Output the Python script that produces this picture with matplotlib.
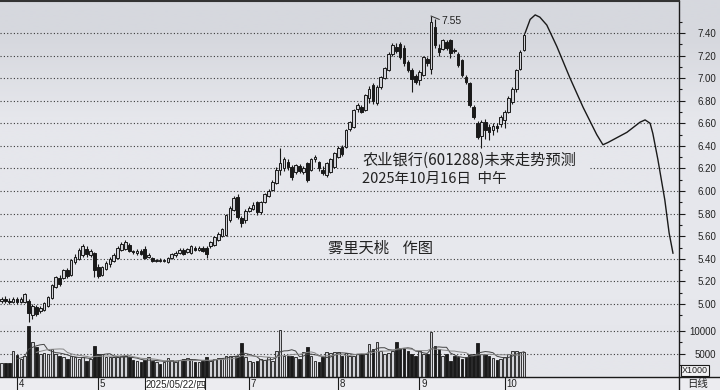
import numpy as np
import pandas as pd
import matplotlib
matplotlib.use('Agg')
from matplotlib import pyplot as plt
from matplotlib.patches import Rectangle
from matplotlib.lines import Line2D
from matplotlib.ticker import FixedLocator, FixedFormatter

# daily K-line, 601288, late March .. 2025-10-16
opens = [5.03, 5.04, 5.03, 5.02, 5.04, 5.02, 5.02, 5.03, 4.90, 4.97,
         4.94, 4.95, 4.98, 5.05, 5.15, 5.23, 5.23, 5.30, 5.26, 5.37,
         5.40, 5.43, 5.49, 5.43, 5.45, 5.33, 5.26, 5.31, 5.35, 5.38,
         5.41, 5.48, 5.49, 5.52, 5.47, 5.45, 5.47, 5.49, 5.42, 5.41,
         5.38, 5.39, 5.38, 5.37, 5.41, 5.43, 5.45, 5.48, 5.46, 5.45,
         5.50, 5.48, 5.50, 5.50, 5.51, 5.52, 5.57, 5.60, 5.61, 5.74,
         5.83, 5.95, 5.76, 5.74, 5.82, 5.84, 5.90, 5.81, 5.90, 5.96,
         6.01, 6.07, 6.19, 6.20, 6.26, 6.21, 6.17, 6.22, 6.17, 6.25,
         6.19, 6.28, 6.26, 6.19, 6.14, 6.17, 6.21, 6.30, 6.39, 6.39,
         6.55, 6.57, 6.73, 6.74, 6.72, 6.82, 6.94, 6.78, 6.92, 7.00,
         7.07, 7.21, 7.28, 7.30, 7.27, 7.14, 7.07, 7.02, 6.98, 7.03,
         7.17, 7.08, 7.45, 7.27, 7.26, 7.32, 7.34, 7.25, 7.21, 7.16,
         7.01, 6.96, 6.74, 6.60, 6.49, 6.61, 6.57, 6.54, 6.58, 6.59,
         6.63, 6.70, 6.79, 6.90, 7.08, 7.25]
closes = [5.04, 5.03, 5.02, 5.04, 5.02, 5.04, 5.09, 4.92, 4.98, 4.91,
          4.96, 5.01, 5.06, 5.17, 5.24, 5.18, 5.30, 5.25, 5.39, 5.42,
          5.48, 5.51, 5.44, 5.47, 5.30, 5.25, 5.33, 5.36, 5.40, 5.43,
          5.50, 5.53, 5.55, 5.47, 5.46, 5.47, 5.44, 5.41, 5.43, 5.38,
          5.39, 5.38, 5.39, 5.41, 5.44, 5.45, 5.48, 5.44, 5.49, 5.51,
          5.48, 5.50, 5.47, 5.44, 5.55, 5.59, 5.62, 5.66, 5.79, 5.85,
          5.94, 5.77, 5.72, 5.82, 5.85, 5.88, 5.81, 5.90, 5.97, 6.00,
          6.08, 6.19, 6.25, 6.28, 6.21, 6.12, 6.23, 6.18, 6.20, 6.10,
          6.28, 6.30, 6.20, 6.16, 6.25, 6.28, 6.34, 6.38, 6.33, 6.54,
          6.61, 6.72, 6.76, 6.70, 6.85, 6.90, 6.80, 6.92, 7.01, 7.09,
          7.21, 7.29, 7.24, 7.19, 7.13, 7.07, 6.99, 6.97, 7.05, 7.19,
          7.13, 7.50, 7.29, 7.23, 7.34, 7.27, 7.22, 7.24, 7.12, 7.03,
          6.97, 6.76, 6.66, 6.48, 6.61, 6.54, 6.52, 6.58, 6.56, 6.66,
          6.70, 6.82, 6.90, 7.07, 7.23, 7.38]
highs = [5.06, 5.07, 5.05, 5.06, 5.06, 5.06, 5.10, 5.04, 5.00, 4.99,
         4.98, 5.02, 5.07, 5.18, 5.25, 5.26, 5.31, 5.32, 5.40, 5.44,
         5.50, 5.53, 5.51, 5.49, 5.46, 5.35, 5.34, 5.38, 5.42, 5.45,
         5.51, 5.55, 5.57, 5.54, 5.48, 5.49, 5.49, 5.51, 5.45, 5.42,
         5.40, 5.41, 5.40, 5.42, 5.45, 5.47, 5.50, 5.50, 5.50, 5.52,
         5.51, 5.51, 5.51, 5.51, 5.56, 5.60, 5.64, 5.67, 5.80, 5.87,
         5.96, 5.97, 5.78, 5.84, 5.87, 5.90, 5.91, 5.91, 5.98, 6.02,
         6.10, 6.21, 6.38, 6.30, 6.28, 6.23, 6.24, 6.24, 6.22, 6.26,
         6.29, 6.32, 6.27, 6.22, 6.26, 6.29, 6.35, 6.40, 6.41, 6.55,
         6.62, 6.73, 6.78, 6.76, 6.86, 6.93, 6.96, 6.94, 7.02, 7.10,
         7.23, 7.31, 7.31, 7.32, 7.29, 7.16, 7.09, 7.04, 7.07, 7.20,
         7.19, 7.55, 7.52, 7.30, 7.35, 7.34, 7.35, 7.27, 7.23, 7.17,
         7.03, 6.97, 6.76, 6.62, 6.63, 6.64, 6.59, 6.60, 6.60, 6.67,
         6.72, 6.84, 6.92, 7.08, 7.25, 7.40]
lows = [5.01, 5.01, 5.00, 5.01, 5.00, 5.01, 5.01, 4.84, 4.87, 4.89,
        4.92, 4.94, 4.97, 5.04, 5.14, 5.16, 5.22, 5.23, 5.25, 5.35,
        5.39, 5.42, 5.42, 5.42, 5.24, 5.23, 5.25, 5.30, 5.33, 5.37,
        5.40, 5.47, 5.48, 5.46, 5.44, 5.43, 5.43, 5.40, 5.41, 5.37,
        5.37, 5.37, 5.37, 5.36, 5.40, 5.42, 5.44, 5.43, 5.45, 5.44,
        5.47, 5.47, 5.46, 5.41, 5.50, 5.51, 5.56, 5.59, 5.60, 5.73,
        5.82, 5.75, 5.68, 5.72, 5.81, 5.83, 5.79, 5.80, 5.89, 5.95,
        6.00, 6.06, 6.14, 6.18, 6.19, 6.10, 6.15, 6.16, 6.15, 6.08,
        6.18, 6.26, 6.18, 6.14, 6.12, 6.16, 6.20, 6.29, 6.31, 6.38,
        6.53, 6.56, 6.70, 6.69, 6.71, 6.78, 6.77, 6.76, 6.90, 6.99,
        7.06, 7.20, 7.22, 7.17, 7.11, 7.05, 6.88, 6.95, 6.94, 7.02,
        7.11, 7.04, 7.27, 7.20, 7.25, 7.25, 7.18, 7.22, 7.10, 7.01,
        6.95, 6.74, 6.64, 6.46, 6.38, 6.46, 6.45, 6.50, 6.52, 6.57,
        6.56, 6.69, 6.77, 6.88, 7.07, 7.24]
# volume, x1000 lots
volumes = [3000, 2900, 3000, 5700, 4800, 3900, 4600, 11100, 7600, 6500,
           5000, 5100, 5000, 6100, 5000, 4600, 4200, 3900, 4600, 4200,
           3900, 4200, 3500, 3900, 6600, 5000, 5000, 4200, 4200, 4200,
           4200, 4400, 4500, 4200, 3600, 3500, 3100, 3600, 4200, 3500,
           3100, 2800, 3100, 4100, 3600, 3100, 3600, 3900, 4100, 3900,
           3100, 3100, 3300, 4200, 3500, 3900, 4100, 4100, 4600, 4600,
           4600, 4600, 7400, 4200, 3500, 3100, 3500, 3900, 3600, 4200,
           3500, 5600, 10200, 4600, 4400, 4600, 4200, 3900, 5400, 6500,
           4600, 3500, 3100, 4200, 5400, 5200, 5400, 5400, 4600, 5100,
           4600, 4600, 5000, 5000, 5000, 7200, 6100, 7600, 5700, 5000,
           5100, 5600, 7600, 6300, 6300, 5700, 5000, 4600, 5700, 5000,
           5000, 9800, 6600, 6100, 4600, 5000, 3500, 4600, 4200, 3900,
           4200, 5000, 5000, 7400, 5000, 5000, 4600, 4100, 3600, 3900,
           4200, 5000, 5700, 5700, 5400, 5400]

month_idx = [4, 25, 64, 87, 108, 130]
month_lbl = ['4', '5', '7', '8', '9', '10']
cursor_idx = 37
cursor_lbl = '2025/05/22/四'

# hand drawn forecast (bar index, price)
fc_x = [135.3, 136.6, 137.9, 139.1, 140.9, 143.5, 146.9, 150.3, 153.8, 155.4,
        156.7, 161.6, 165.0, 166.3, 167.6, 168.3, 169.6, 171.4, 172.5, 173.5]
fc_y = [7.40, 7.52, 7.56, 7.54, 7.47, 7.28, 7.00, 6.74, 6.50, 6.41,
        6.43, 6.52, 6.61, 6.63, 6.60, 6.51, 6.28, 5.92, 5.63, 5.45]

price_ticks = [5.00, 5.20, 5.40, 5.60, 5.80, 6.00, 6.20, 6.40, 6.60, 6.80, 7.00, 7.20, 7.40]
price_minor = [4.90, 5.10, 5.30, 5.50, 5.70, 5.90, 6.10, 6.30, 6.50, 6.70, 6.90, 7.10, 7.30, 7.50]
vol_ticks = [5000, 10000]
vol_minor = [2500, 7500]

plt.rcParams['font.family'] = ['Liberation Sans', 'Noto Sans CJK SC', 'DejaVu Sans']
CJK = ['Noto Sans CJK SC', 'DejaVu Sans']
INK = '#1a1a1a'
HOLLOW = '#d2d3d8'
GRID = dict(color='#3a3a3a', linestyle=(0, (1, 2)), linewidth=0.8)

fig = plt.figure(figsize=(7.2, 3.9), dpi=100)

# light grey backdrop
bg = fig.add_axes([0, 0, 1, 1], zorder=-10)
shade = np.array([[[214, 216, 222]], [[230, 231, 236]], [[230, 231, 236]],
                  [[232, 233, 238]], [[229, 230, 235]]], dtype=float) / 255
bg.imshow(shade, aspect='auto', extent=[0, 1, 0, 1], interpolation='bilinear')
bg.axis('off')
fig.patches.append(Rectangle((0, 0), 1, 13.5 / 390, transform=fig.transFigure,
                             facecolor='#ececf0', edgecolor='none', zorder=-5))

rect = [0, 13.5 / 390, 679 / 720, 375.5 / 390]
ax = fig.add_axes(rect, facecolor='none')
axv = fig.add_axes(rect, facecolor='none', sharex=ax)

n = len(closes)
x = np.arange(n)
o = np.array(opens); c = np.array(closes)
h = np.array(highs); l = np.array(lows)
up = c >= o

ax.set_xlim(-0.39, 175.06)
ax.set_ylim(4.3576, 7.683)
ax.set_axisbelow(True)

# candles
ax.vlines(x, l, h, color=INK, lw=0.8, zorder=2)
body_lo = np.minimum(o, c)
body_h = np.maximum(np.abs(c - o), 0.006)
ax.bar(x[up], body_h[up], width=0.68, bottom=body_lo[up], facecolor=HOLLOW,
       edgecolor=INK, linewidth=0.7, zorder=3)
ax.bar(x[~up], body_h[~up], width=0.68, bottom=body_lo[~up], facecolor=INK,
       edgecolor=INK, linewidth=0.7, zorder=3)

# forecast curve
ax.plot(fc_x, fc_y, color=INK, lw=1.0, zorder=4)

# high marker
top = int(np.argmax(h))
ax.plot([top, top + 2.1], [h[top], h[top] - 0.03], color='#333', lw=0.7, zorder=4)
ax.text(top + 2.7, h[top] - 0.04, '%.2f' % h[top], fontsize=7.5, color='#222',
        va='center', ha='left')

# price axis
ax.yaxis.tick_right()
ax.yaxis.set_major_locator(FixedLocator(price_ticks))
ax.yaxis.set_major_formatter(FixedFormatter(['%.2f' % p for p in price_ticks]))
ax.yaxis.set_minor_locator(FixedLocator(price_minor))
ax.tick_params(axis='y', which='major', length=4, width=0.8, color=INK,
               labelsize=7, pad=23, labelcolor='#222')
ax.tick_params(axis='y', which='minor', length=2, width=0.8, color=INK)
for lab in ax.get_yticklabels():
    lab.set_horizontalalignment('right')
ax.set_xticks([])
ax.yaxis.grid(True, which='major', **GRID)
for s in ['left', 'bottom']:
    ax.spines[s].set_visible(False)
ax.spines['top'].set_color('#333')
ax.spines['top'].set_linewidth(1.5)
ax.spines['right'].set_color(INK)
ax.spines['right'].set_linewidth(1.0)

# volume
v = np.array(volumes)
axv.set_ylim(0, 82500)
axv.bar(x[up], v[up], width=0.68, facecolor=HOLLOW, edgecolor=INK, linewidth=0.6, zorder=3)
axv.bar(x[~up], v[~up], width=0.68, facecolor=INK, edgecolor=INK, linewidth=0.6, zorder=3)
ma5 = pd.Series(volumes).rolling(5).mean()
ma10 = pd.Series(volumes).rolling(10).mean()
axv.plot(x, ma5, color='#444', lw=0.7, zorder=4)
axv.plot(x, ma10, color='#888', lw=0.7, zorder=4)
axv.yaxis.tick_right()
axv.yaxis.set_major_locator(FixedLocator(vol_ticks))
axv.yaxis.set_major_formatter(FixedFormatter([str(t) for t in vol_ticks]))
axv.yaxis.set_minor_locator(FixedLocator(vol_minor))
axv.tick_params(axis='y', which='major', length=4, width=0.8, color=INK,
                labelsize=7, pad=23, labelcolor='#222')
axv.tick_params(axis='y', which='minor', length=2, width=0.8, color=INK)
for lab in axv.get_yticklabels():
    lab.set_horizontalalignment('right')
axv.yaxis.grid(True, which='major', **GRID)
axv.set_axisbelow(True)
for s in axv.spines.values():
    s.set_visible(False)
axv.tick_params(axis='x', bottom=False, labelbottom=False)

# captions (box hides the 6.20 grid under them)
ax.add_patch(Rectangle((92.1, 6.02), 60.0, 0.215, facecolor=(230 / 255, 231 / 255, 236 / 255),
                       edgecolor='none', zorder=1))
ax.text(93.2, 6.275, '农业银行(601288)未来走势预测', family=CJK, fontsize=11,
        color='#222', va='center', ha='left', zorder=5)
ax.text(93.2, 6.107, '2025年10月16日  中午', family=CJK, fontsize=10.5,
        color='#222', va='center', ha='left', zorder=5)
ax.text(84.4, 5.49, '雾里天桃    作图', family=CJK, fontsize=11,
        color='#222', va='center', ha='left', zorder=5)

# date strip
axd = fig.add_axes([0, 0, 679 / 720, 13.5 / 390], facecolor='none', sharex=ax)
axd.set_ylim(0, 1)
axd.axis('off')
axd.vlines(month_idx, 0, 1, color=INK, lw=0.8)
for m, t in zip(month_idx, month_lbl):
    axd.text(m + 0.4, 0.45, t, fontsize=7, color='#222', va='center', ha='left')
axd.add_patch(Rectangle((cursor_idx, 0.02), 15.5, 0.96, facecolor='white',
                        edgecolor=INK, lw=0.8))
axd.text(cursor_idx + 0.2, 0.45, cursor_lbl, fontsize=7, color='#222',
         va='center', ha='left')

# frame lines and corner labels
fig.add_artist(Line2D([0, 1], [13.5 / 390, 13.5 / 390], color=INK, lw=1.0))
fig.add_artist(Line2D([679 / 720, 679 / 720], [0, 13.5 / 390], color=INK, lw=1.0))
fig.text(695 / 720, (390 - 370.5) / 390, 'X1000', fontsize=6.5, color='#222',
         ha='center', va='center',
         bbox=dict(facecolor='#f2f2f4', edgecolor=INK, lw=0.8, pad=1.0))
fig.text(698 / 720, (390 - 384) / 390, '日线', family=CJK, fontsize=7.5,
         color='#222', ha='center', va='center')

fig.savefig('out.png', dpi=100)
